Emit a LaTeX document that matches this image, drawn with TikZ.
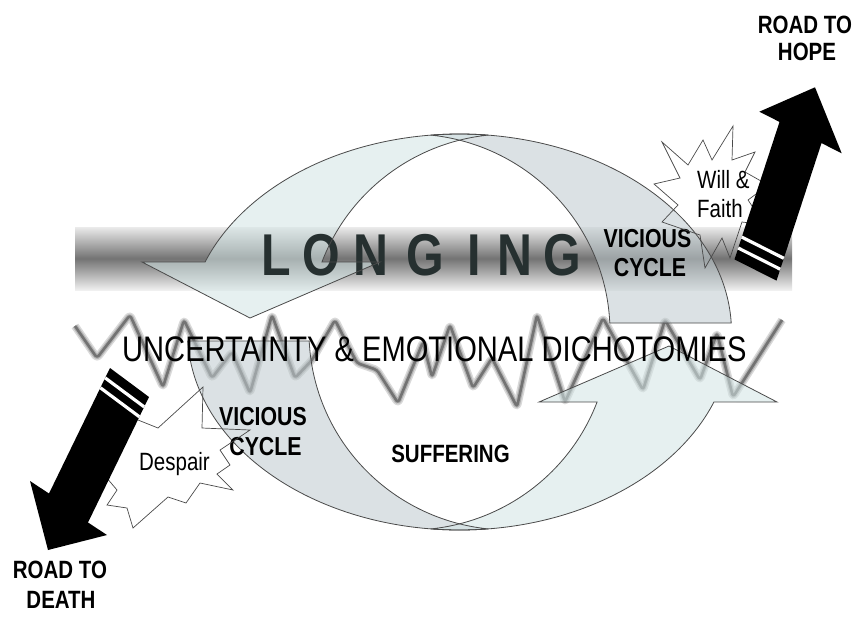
\documentclass[tikz,border=0pt]{standalone}
\usepackage{fontspec}
\setmainfont{Liberation Sans}[FakeStretch=0.82]
\definecolor{lightA}{HTML}{D2E4E4}
\definecolor{greyA}{HTML}{BECACE}
\definecolor{edgec}{HTML}{4A4A4A}
\definecolor{longc}{HTML}{263030}
\begin{document}
\begin{tikzpicture}[x=1pt,y=-1pt,
  edgeline/.style={draw=edgec, line width=0.8pt},
  lightfill/.style={fill=lightA, fill opacity=0.55},
  greyfill/.style={fill=greyA, fill opacity=0.55},
  boldlbl/.style={font=\bfseries\fontsize{25}{25}\selectfont, anchor=base, inner sep=0pt},
  vclbl/.style={font=\bfseries\fontsize{26}{26}\selectfont, anchor=base, inner sep=0pt},
  reglbl/.style={font=\fontsize{25}{25}\selectfont, anchor=base, inner sep=0pt},
  longl/.style={font=\bfseries\fontsize{59}{59}\selectfont, text=longc, anchor=base, inner sep=0pt},
  starline/.style={draw=edgec, line width=0.7pt},
  stripe/.style={draw=white, line width=3.2pt},
  wave/.style={draw=black!55, line width=2.6pt, line join=round, rounded corners=3pt,
    preaction={draw=black!15, line width=8pt, line join=round, rounded corners=3pt},
    preaction={draw=black!30, line width=5pt, line join=round, rounded corners=3pt}}
]
\useasboundingbox (0,0) rectangle (858,616);
\fill[white] (0,0) rectangle (858,616);

% LONGING band
\shade[top color=black!8, bottom color=black!6, middle color=black!55] (75,227) rectangle (792,290);

% wavy line
\draw[wave] (75,326) -- (97,358) -- (130,315) -- (163,387) -- (184,320) -- (212,378)
  -- (232,352) -- (250,393) -- (272,315) -- (295,378) -- (312,360) -- (335,320)
  -- (357,363) -- (377,370) -- (398,403) -- (423,342) -- (432,377) -- (450,325)
  -- (473,388) -- (492,358) -- (517,407) -- (537,315) -- (565,402) -- (603,318)
  -- (643,390) -- (665,320) -- (700,380) -- (717,333) -- (733,397) -- (782,320);

% circular arrows: #1 style of the tail crescent, #2 style of the head crescent
\newcommand\cyclearrow[2]{%
  \path[#1] plot[domain=-2.6:-96,samples=90] ({459.5+272*cos(\x)},{332+198*sin(\x)})
    -- plot[domain=-84:-2.6,samples=90] ({410+200*cos(\x)},{332+198*sin(\x)}) -- cycle;
  \path[#2] plot[domain=-84:-159.3,samples=90] ({459.5+272*cos(\x)},{332+198*sin(\x)})
    -- (142,262) -- (250,318) -- (380,262)
    -- plot[domain=-159.3:-96,samples=90] ({509+200*cos(\x)},{332+198*sin(\x)}) -- cycle;
}
\cyclearrow{greyfill}{lightfill}
\begin{scope}[rotate around={180:(459.5,332)}]
\cyclearrow{greyfill}{lightfill}
\end{scope}

% LONGING
\foreach \l/\x [count=\i] in {L/276, O/321.5, N/370.5, G/425, I/474, N/514.5, G/562}
  \node[longl] (long\i) at (\x,275) {\l};

% outlines of the circular arrows
\cyclearrow{edgeline}{edgeline}
\begin{scope}[rotate around={180:(459.5,332)}]
\cyclearrow{edgeline}{edgeline}
\end{scope}

% texts on the cycle
\node[font=\fontsize{35.5}{35.5}\selectfont, anchor=base west, inner sep=0pt] (unc) at (122,361)
  {UNCERTAINTY \& EMOTIONAL DICHOTOMIES};
\node[vclbl] (vc1a) at (647.5,247) {VICIOUS};
\node[vclbl] (vc1b) at (650,276) {CYCLE};
\node[vclbl] (vc2a) at (263,425) {VICIOUS};
\node[vclbl] (vc2b) at (265.5,455) {CYCLE};
\node[boldlbl] (suff) at (450.5,462) {SUFFERING};

% starbursts
\draw[starline] (662,142) -- (688,165) -- (703,140) -- (712,160) -- (733,126) -- (732,160)
  -- (755,152) -- (745,172) -- (768,185) -- (748,200) -- (765,225) -- (742,222)
  -- (730,258) -- (722,238) -- (705,268) -- (700,235) -- (662,222) -- (678,205)
  -- (654,184) -- (680,178) -- cycle;
\node[reglbl, anchor=base west] (will) at (697,188) {Will \&};
\node[reglbl, anchor=base west] (faith) at (697,217) {Faith};

\draw[starline] (133,418) -- (158,428) -- (203,387) -- (202,428) -- (250,430) -- (220,450)
  -- (230,465) -- (217,474) -- (233,490) -- (200,483) -- (186,503) -- (168,497)
  -- (133,528) -- (127,508) -- (107,505) -- (117,490) -- (100,470) -- (120,455)
  -- (108,435) -- cycle;
\node[reglbl] (despair) at (174.5,470) {Despair};

% road to hope arrow
\fill[black] (734.5,259.4) -- (779.5,121.9) -- (759.3,111.7) -- (815,87.3)
  -- (841.7,153.3) -- (821.5,143.1) -- (776.5,280.6) -- cycle;
\draw[stripe] (738.2,248.0) -- (780.2,269.2);
\draw[stripe] (741.8,237.1) -- (783.8,258.3);

% road to death arrow
\fill[black] (110,368) -- (49,493.5) -- (30,481) -- (48,550) -- (107,535)
  -- (88,522.5) -- (149,397) -- cycle;
\draw[stripe] (105.2,377.9) -- (144.2,406.9);
\draw[stripe] (100.4,387.8) -- (139.4,416.8);

\node[boldlbl] (hope1) at (805,33) {ROAD TO};
\node[boldlbl] (hope2) at (807,60) {HOPE};
\node[boldlbl] (death1) at (60,578) {ROAD TO};
\node[boldlbl] (death2) at (61,608) {DEATH};
\end{tikzpicture}
\end{document}
